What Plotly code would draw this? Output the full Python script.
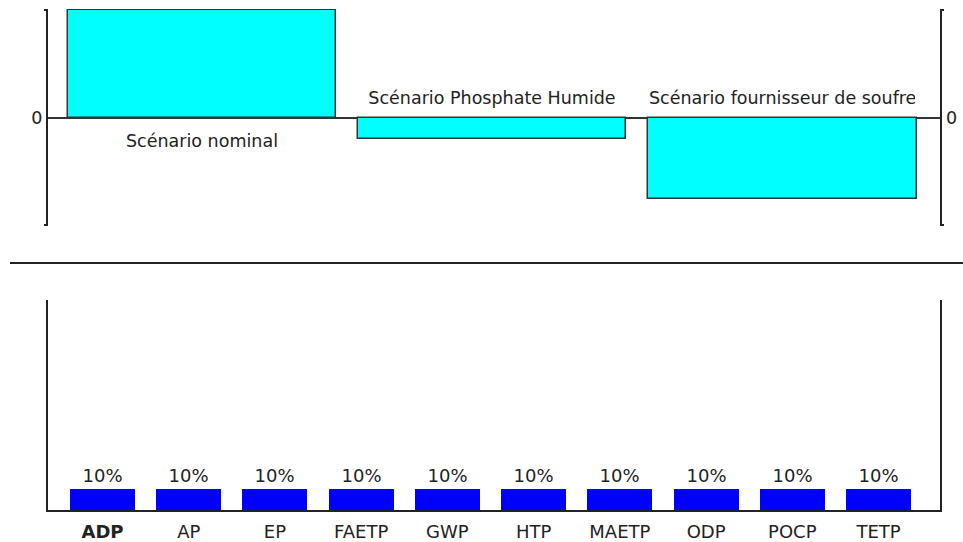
import plotly.graph_objects as go

W, H = 963, 542

# Scenario comparison (relative score, normalised to the largest bar)
scenarios = ["Scénario nominal", "Scénario Phosphate Humide", "Scénario fournisseur de soufre"]
scenario_scores = [1.0, -0.19, -0.75]
scenario_label_align = ["center", "center", "left"]

# Impact-category weighting
categories = ["ADP", "AP", "EP", "FAETP", "GWP", "HTP", "MAETP", "ODP", "POCP", "TETP"]
weights = [10, 10, 10, 10, 10, 10, 10, 10, 10, 10]
selected_category = "ADP"

FONT = "DejaVu Sans"
INK = "#222222"
FS_TOP = 17.5
FS_BOTTOM = 18


def fx(px):
    return px / W


def fy(py):
    return 1 - py / H


fig = go.Figure()

# --- upper panel: scenario scores ---
fig.add_trace(go.Bar(
    x=list(range(len(scenarios))), y=scenario_scores, width=0.924,
    marker=dict(color="#00FFFF", line=dict(color="#333333", width=1.5)),
    xaxis="x", yaxis="y", hoverinfo="skip", showlegend=False,
))

# --- lower panel: category weights ---
fig.add_trace(go.Bar(
    x=list(range(len(categories))), y=weights, width=0.754,
    marker=dict(color="#0000FF", line=dict(width=0)),
    texttemplate="%{y}%", textposition="outside", cliponaxis=False,
    textfont=dict(family=FONT, size=FS_BOTTOM, color=INK),
    xaxis="x2", yaxis="y2", hoverinfo="skip", showlegend=False,
))

ticktext = [f"<b>{c}</b>" if c == selected_category else c for c in categories]

fig.update_layout(
    width=W, height=H,
    margin=dict(l=0, r=0, t=0, b=0),
    paper_bgcolor="white", plot_bgcolor="white",
    font=dict(family=FONT, size=FS_TOP, color=INK),
    bargap=0,
    xaxis=dict(domain=[fx(48), fx(940)], range=[-0.531, 2.543],
               showticklabels=False, showgrid=False, zeroline=False, showline=False),
    yaxis=dict(domain=[fy(226), fy(9)], range=[-1.0, 1.01],
               showgrid=False, zeroline=True, zerolinecolor="#333333", zerolinewidth=2,
               showline=True, linecolor=INK, linewidth=2, mirror=True,
               tickvals=[0], ticktext=["0"], ticks="",
               tickfont=dict(family=FONT, size=FS_TOP, color=INK)),
    xaxis2=dict(domain=[fx(48), fx(940)], range=[-0.632, 9.713], anchor="y2",
                tickvals=list(range(len(categories))), ticktext=ticktext, ticks="",
                ticklabelstandoff=4,
                showgrid=False, zeroline=False,
                showline=True, linecolor=INK, linewidth=2,
                tickfont=dict(family=FONT, size=FS_BOTTOM, color=INK)),
    yaxis2=dict(domain=[fy(510), fy(300)], range=[0, 100], anchor="x2",
                showticklabels=False, showgrid=False, zeroline=False,
                showline=True, linecolor=INK, linewidth=2, mirror=True),
)

# scenario names, on the side of the zero line opposite to each bar,
# clipped to the bar's width
for i, (name, val, al) in enumerate(zip(scenarios, scenario_scores, scenario_label_align)):
    fig.add_annotation(
        x=i, y=0, xref="x", yref="y", text=name, showarrow=False,
        xanchor="center", yanchor="top" if val > 0 else "bottom",
        yshift=-11 if val > 0 else 8,
        width=266, align=al,
        font=dict(family=FONT, size=FS_TOP, color=INK),
    )

# right-hand zero label
fig.add_annotation(x=fx(944), y=0, xref="paper", yref="y", text="0", showarrow=False,
                   xanchor="left", yanchor="middle",
                   font=dict(family=FONT, size=FS_TOP, color=INK))

shapes = []
# end caps on the upper panel's side axes
for py in (10, 225):
    shapes.append(dict(type="line", xref="paper", yref="paper",
                       x0=fx(44), x1=fx(48), y0=fy(py), y1=fy(py),
                       line=dict(color=INK, width=2)))
    shapes.append(dict(type="line", xref="paper", yref="paper",
                       x0=fx(940), x1=fx(944), y0=fy(py), y1=fy(py),
                       line=dict(color=INK, width=2)))
# separator between the two panels
shapes.append(dict(type="line", xref="paper", yref="paper",
                   x0=fx(10), x1=1, y0=fy(263), y1=fy(263),
                   line=dict(color=INK, width=2)))
fig.update_layout(shapes=shapes)

fig.write_html("out.html")
